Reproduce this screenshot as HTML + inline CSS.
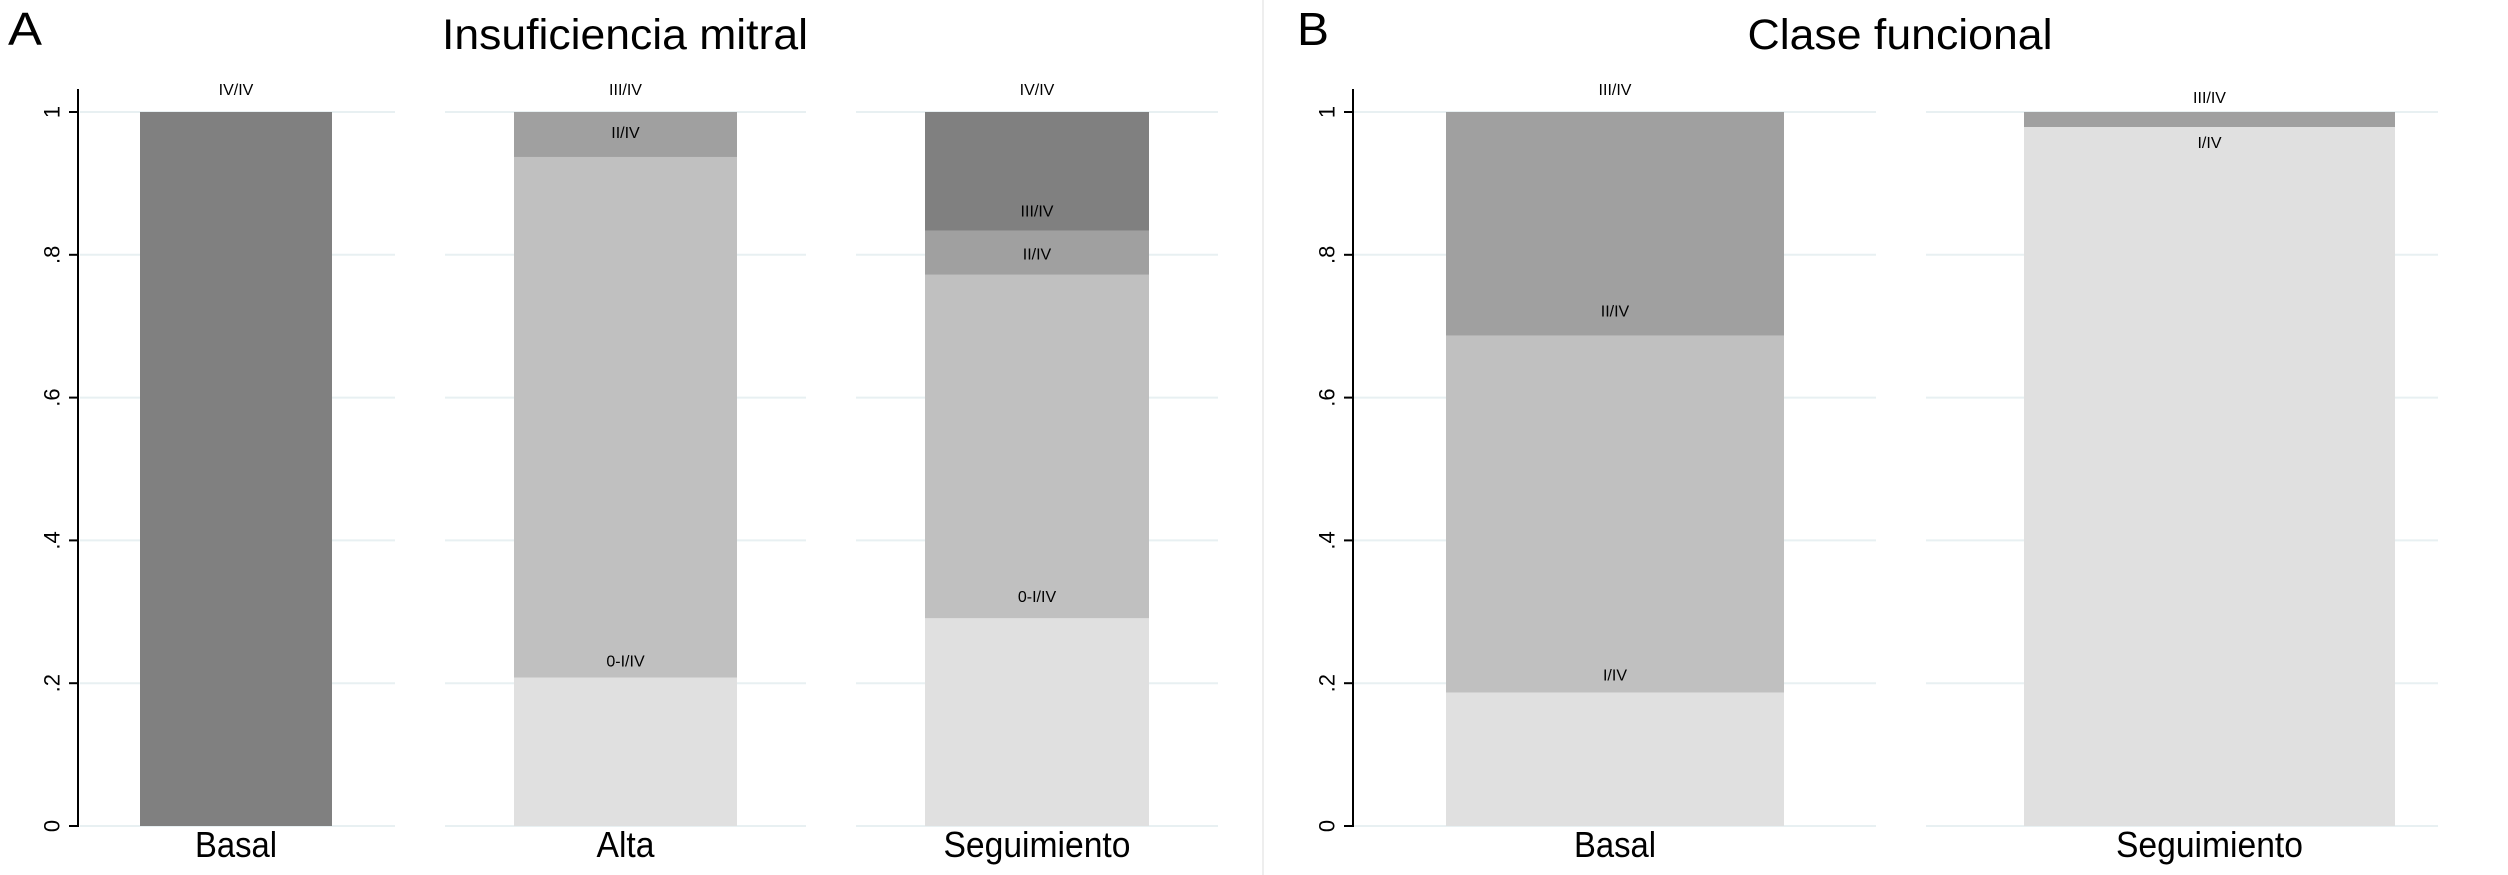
<!DOCTYPE html>
<html><head><meta charset="utf-8"><style>
html,body{margin:0;padding:0;background:#fff;}
svg{display:block;font-family:"Liberation Sans Narrow","Liberation Sans",sans-serif;}
</style></head><body>
<svg id="chart" width="2508" height="875" viewBox="0 0 2508 875" xmlns="http://www.w3.org/2000/svg">
<rect width="2508" height="875" fill="#fff"/>
<line x1="1263" y1="0" x2="1263" y2="875" stroke="#eeeeee" stroke-width="2"/>
<text x="8" y="45" font-size="46" fill="#000" textLength="34" lengthAdjust="spacingAndGlyphs">A</text>
<text x="625" y="49" font-size="43" fill="#000" text-anchor="middle" textLength="366" lengthAdjust="spacingAndGlyphs">Insuficiencia mitral</text>
<text x="1297" y="45" font-size="46" fill="#000" textLength="32" lengthAdjust="spacingAndGlyphs">B</text>
<text x="1900" y="49" font-size="43" fill="#000" text-anchor="middle" textLength="305" lengthAdjust="spacingAndGlyphs">Clase funcional</text>
<g id="plots"></g>
</svg>
<script>
// Y axis ticks
const yTicks = [0, 0.2, 0.4, 0.6, 0.8, 1];
const yTickLabels = ["0", ".2", ".4", ".6", ".8", "1"];
// Segment categories (bottom to top): colors per grade level
const segColors = ["#e0e0e0", "#c0c0c0", "#a0a0a0", "#808080"];
// Panel A: Insuficiencia mitral
const aCategories = ["Basal", "Alta", "Seguimiento"];
const aSegments = [
  [0, 0, 0, 1.0],
  [0.208, 0.729, 0.063, 0],
  [0.291, 0.481, 0.062, 0.166]
];
const aLabelText = [
  ["IV/IV"],
  ["0-I/IV", "II/IV", "III/IV"],
  ["0-I/IV", "II/IV", "III/IV", "IV/IV"]
];
const aLabelPos = [
  [1.03],
  [0.23, 0.97, 1.03],
  [0.32, 0.80, 0.86, 1.03]
];
// Panel B: Clase funcional
const bCategories = ["Basal", "Seguimiento"];
const bSegments = [
  [0.187, 0.50, 0.313, 0],
  [0.979, 0, 0.021, 0]
];
const bLabelText = [
  ["I/IV", "II/IV", "III/IV"],
  ["I/IV", "III/IV"]
];
const bLabelPos = [
  [0.21, 0.72, 1.03],
  [0.956, 1.019]
];

const NS = "http://www.w3.org/2000/svg";
const root = document.getElementById("plots");
function mk(tag, attrs, parent) {
  const e = document.createElementNS(NS, tag);
  for (const k in attrs) e.setAttribute(k, attrs[k]);
  (parent || root).appendChild(e);
  return e;
}
const y0 = 826, y1 = 112;
function yScale(v) { return y0 - v * (y0 - y1); }

function drawPanel(key, axisX, subplots, bars, cats, segs, lblT, lblP, catWidths) {
  const g = mk("g", {});
  
  
  subplots.forEach((sp) => {
    yTicks.forEach((t) => {
      const ln = mk("line", {x1: sp[0], x2: sp[1], y1: yScale(t), y2: yScale(t), stroke: "#e8f0f2", "stroke-width": 2}, g);
      
      
    });
  });
  const ax = mk("line", {x1: axisX, x2: axisX, y1: yScale(0) + 1, y2: yScale(1) - 23, stroke: "#000", "stroke-width": 2}, g);
  
  
  yTicks.forEach((t, j) => {
    const tk = mk("line", {x1: axisX - 9, x2: axisX, y1: yScale(t), y2: yScale(t), stroke: "#000", "stroke-width": 2}, g);
    
    
    const yy = yScale(t);
    const tl = mk("text", {x: axisX - 26, y: yy, "font-size": 22, "text-anchor": "middle", "dominant-baseline": "central", transform: "rotate(-90 " + (axisX - 26) + " " + yy + ")"}, g);
    tl.textContent = yTickLabels[j];
    
    
  });
  cats.forEach((c, i) => {
    const bx = bars[i][0], bw = bars[i][1] - bars[i][0];
    let cum = 0;
    segs[i].forEach((v, k) => {
      if (v > 0) {
        const r = mk("rect", {x: bx, y: yScale(cum + v), width: bw, height: yScale(cum) - yScale(cum + v), fill: segColors[k]}, g);
        
        
      }
      cum += v;
    });
    const cx = bx + bw / 2;
    lblT[i].forEach((txt, k) => {
      const t = mk("text", {x: cx, y: yScale(lblP[i][k]), "font-size": 16, "text-anchor": "middle", "dominant-baseline": "central"}, g);
      t.textContent = txt;
      
      
    });
    const cl = mk("text", {x: cx, y: 857, "font-size": 36, "text-anchor": "middle", textLength: catWidths[i], lengthAdjust: "spacingAndGlyphs"}, g);
    cl.textContent = c;
    
    
  });
}
drawPanel("panel-a", 78, [[80, 395], [445, 806], [856, 1218]], [[140, 332], [514, 737], [925, 1149]],
  aCategories, aSegments, aLabelText, aLabelPos, [82, 58, 187]);
drawPanel("panel-b", 1353, [[1354, 1876], [1926, 2438]], [[1446, 1784], [2024, 2395]],
  bCategories, bSegments, bLabelText, bLabelPos, [82, 187]);
</script>
</body></html>
